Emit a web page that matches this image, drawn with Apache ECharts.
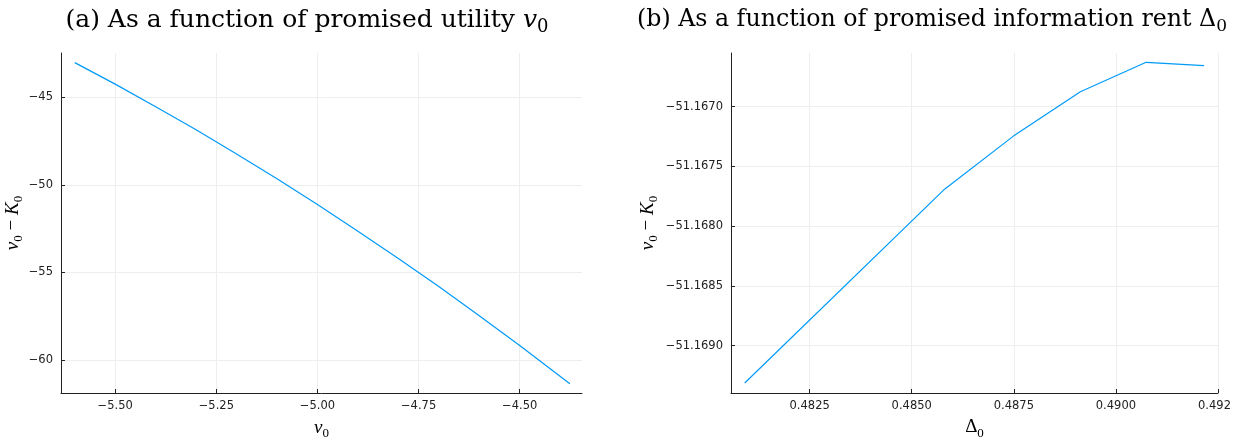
<!DOCTYPE html>
<html>
<head>
<meta charset="utf-8">
<script src="https://cdn.jsdelivr.net/npm/echarts@6/dist/echarts.min.js"></script>
<style>
  html, body { margin: 0; padding: 0; background: #fff; }
  #chart { width: 1245px; height: 441px; }
</style>
</head>
<body>
<div id="chart"></div>
<script>
// Panel (a): v0 - K0 against promised utility v0
const utilityV0 = [-5.6, -5.5, -5.4, -5.3, -5.2, -5.1, -5.0, -4.9, -4.8, -4.7, -4.6, -4.5, -4.376];
const surplusA = [-43.02, -44.25, -45.54, -46.86, -48.24, -49.66, -51.13, -52.65, -54.21, -55.82, -57.48, -59.18, -61.37];
const ticksAX = [-5.5, -5.25, -5.0, -4.75, -4.5];
const ticksAY = [-60, -55, -50, -45];

// Panel (b): v0 - K0 against promised information rent Delta0
const rentDelta0 = [0.48091, 0.48578, 0.48749, 0.48913, 0.49074, 0.49216];
const surplusB = [-51.169313, -51.167698, -51.167246, -51.166874, -51.166628, -51.166656];
const ticksBX = [0.4825, 0.485, 0.4875, 0.49, 0.4925];
const ticksBXLabels = ['0.4825', '0.4850', '0.4875', '0.4900', '0.492'];
const ticksBY = [-51.169, -51.1685, -51.168, -51.1675, -51.167];

const LINE = '#009af9';
const AXIS = '#222';
const GRID = '#eeeeee';
const SANS = 'DejaVu Sans';
const SERIF = 'DejaVu Serif';
const SERIF2 = 'Liberation Serif';
const minus = s => String(s).replace('-', '\u2212');

const mathRich = (size, fam) => {
  const base = { fontFamily: fam, fontWeight: 'normal', color: '#000' };
  return {
    t: Object.assign({}, base, { fontSize: size, lineHeight: size + 6 }),
    i: Object.assign({}, base, { fontStyle: 'italic', fontSize: size, lineHeight: size + 6 }),
    s: Object.assign({}, base, { fontSize: Math.round(size * 0.7), lineHeight: Math.round(size * 0.7), verticalAlign: 'bottom' }),
    d: Object.assign({}, base, { fontSize: size, lineHeight: size + 6 })
  };
};

function valueAxis(extra) {
  return Object.assign({
    type: 'value',
    nameMoveOverlap: false,
    axisLine: { show: true, onZero: false, lineStyle: { color: AXIS, width: 1 } },
    splitLine: { show: true, lineStyle: { color: GRID, width: 1 } }
  }, extra);
}
const tick = vals => ({ show: true, inside: true, length: 4, lineStyle: { color: AXIS }, customValues: vals });
const label = (vals, margin, fmt, rich) => ({
  color: '#222', fontFamily: SANS, fontSize: 11.5, margin: margin,
  customValues: vals, formatter: fmt, rich: rich || {}
});

const option = {
  animation: false,
  backgroundColor: '#fff',
  title: [
    {
      text: '{t|(a) As a function of promised utility }{i|v}{s|0}',
      left: 302, top: 0, textAlign: 'center',
      textStyle: { fontWeight: 'normal', rich: mathRich(25, SERIF) }
    },
    {
      text: '{t|(b) As a function of promised information rent }{d|\u0394}{s|0}',
      left: 927, top: 0, textAlign: 'center',
      textStyle: { fontWeight: 'normal', rich: mathRich(23.7, SERIF) }
    }
  ],
  grid: [
    { left: 61, right: 663, top: 53, bottom: 48, outerBoundsMode: 'none', containLabel: false },
    { left: 731, right: 27, top: 53, bottom: 48, outerBoundsMode: 'none', containLabel: false }
  ],
  xAxis: [
    valueAxis({
      gridIndex: 0, min: -5.634, max: -4.346,
      name: '{i|v}{s|0}', nameLocation: 'middle', nameGap: 22,
      nameTextStyle: { rich: mathRich(19, SERIF2) },
      axisTick: tick(ticksAX),
      axisLabel: label(ticksAX, 7, v => minus(v.toFixed(2)))
    }),
    valueAxis({
      gridIndex: 1, min: 0.480574, max: 0.4925,
      name: '{d|\u0394}{s|0}', nameLocation: 'middle', nameGap: 22,
      nameTextStyle: { rich: mathRich(19, SERIF2) },
      axisTick: tick(ticksBX),
      axisLabel: label(ticksBX, 7, v => {
        const k = ticksBX.findIndex(t => Math.abs(t - v) < 1e-7);
        if (k < 0) return '';
        return k === ticksBX.length - 1 ? '{e|' + ticksBXLabels[k] + '}' : ticksBXLabels[k];
      }, { e: { color: '#222', fontFamily: SANS, fontSize: 11.5, padding: [0, 7, 0, 0] } })
    })
  ],
  yAxis: [
    valueAxis({
      gridIndex: 0, min: -61.90, max: -42.47,
      name: '{i|v}{s|0}{t| \u2212 }{i|K}{s|0}', nameLocation: 'middle', nameGap: 36, nameRotate: 90,
      nameTextStyle: { rich: mathRich(19, SERIF2) },
      axisTick: tick(ticksAY),
      axisLabel: label(ticksAY, 8, v => minus(v.toFixed(0)))
    }),
    valueAxis({
      gridIndex: 1, min: -51.169397, max: -51.16655,
      name: '{i|v}{s|0}{t| \u2212 }{i|K}{s|0}', nameLocation: 'middle', nameGap: 71, nameRotate: 90,
      nameTextStyle: { rich: mathRich(19, SERIF2) },
      axisTick: tick(ticksBY),
      axisLabel: label(ticksBY, 8, v => minus(v.toFixed(4)))
    })
  ],
  series: [
    {
      type: 'line', xAxisIndex: 0, yAxisIndex: 0,
      data: utilityV0.map((x, i) => [x, surplusA[i]]),
      showSymbol: false, lineStyle: { color: LINE, width: 1.2 }, z: 5
    },
    {
      type: 'line', xAxisIndex: 1, yAxisIndex: 1,
      data: rentDelta0.map((x, i) => [x, surplusB[i]]),
      showSymbol: false, lineStyle: { color: LINE, width: 1.2 }, z: 5
    }
  ]
};

const chart = echarts.init(document.getElementById('chart'), null, { renderer: 'canvas' });
chart.setOption(option);
</script>
</body>
</html>
